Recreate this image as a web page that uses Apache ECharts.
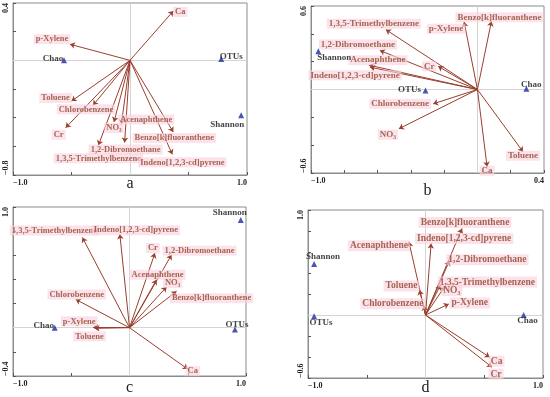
<!DOCTYPE html>
<html><head><meta charset="utf-8">
<script src="https://cdn.jsdelivr.net/npm/echarts@6/dist/echarts.min.js"></script>
<style>html,body{margin:0;padding:0;background:#fff}#c{width:550px;height:397px}</style>
</head><body><div id="c"></div>
<script>
// ---------- DATA ----------
// Panel a
const varsA = ['Ca','p-Xylene','Toluene','Chlorobenzene','Cr','NO₃','Acenaphthene','1,3,5-Trimethylbenzene','1,2-Dibromoethane','Benzo[k]fluoranthene','Indeno[1,2,3-cd]pyrene'];
const varXA = [0.37,-0.513,-0.50,-0.316,-0.55,-0.137,-0.074,-0.27,-0.046,0.37,0.362];
const varYA = [0.344,0.112,-0.284,-0.314,-0.47,-0.43,-0.447,-0.593,-0.574,-0.5,-0.656];
const spA = ['Chao','OTUs','Shannon'];
const spXA = [-0.564,0.78,0.95];
const spYA = [0,0.01,-0.384];
// Panel b
const varsB = ['1,3,5-Trimethylbenzene','p-Xylene','Benzo[k]fluoranthene','1,2-Dibromoethane','Cr','Acenaphthene','Indeno[1,2,3-cd]pyrene','Chlorobenzene','NO₃','Ca','Toluene'];
const varXB = [-0.55,-0.08,0.084,-0.586,-0.236,-0.652,-0.645,-0.266,-0.472,0.058,0.274];
const varYB = [0.43,0.486,0.49,0.28,0.167,0.175,0.16,-0.103,-0.282,-0.555,-0.447];
const spB = ['Shannon','OTUs','Chao'];
const spXB = [-0.956,-0.312,0.294];
const spYB = [0.275,-0.007,0.005];
// Panel c
const varsC = ['1,3,5-Trimethylbenzene','Indeno[1,2,3-cd]pyrene','Cr','1,2-Dibromoethane','Acenaphthene','NO₃','Benzo[k]fluoranthene','Chlorobenzene','p-Xylene','Toluene','Ca'];
const varXC = [-0.404,-0.083,0.218,0.361,0.232,0.318,0.404,-0.461,-0.312,-0.30,0.50];
const varYC = [0.747,0.775,0.618,0.604,0.398,0.338,0.302,0.234,0.003,-0.005,-0.343];
const spC = ['Shannon','Chao','OTUs'];
const spXC = [0.955,-0.642,0.905];
const spYC = [0.893,0,-0.014];
// Panel d
const varsD = ['Benzo[k]fluoranthene','Indeno[1,2,3-cd]pyrene','Acenaphthene','1,2-Dibromoethane','1,3,5-Trimethylbenzene','NO₃','Toluene','Chlorobenzene','p-Xylene','Ca','Cr'];
const varXD = [0.311,0.048,-0.141,0.204,0.127,0.164,-0.051,-0.014,0.198,0.546,0.566];
const varYD = [0.824,0.681,0.697,0.516,0.285,0.272,0.238,0.089,0.105,-0.402,-0.497];
const spD = ['Shannon','OTUs','Chao'];
const spXD = [-0.948,-0.948,0.835];
const spYD = [0.485,-0.013,0];
// Axis tick labels (only ends are labelled)
const xTicksA = ['\u22121.0','1.0'], yTicksA = ['\u22120.8','0.4'];
const xTicksB = ['\u22121.0','0.4'], yTicksB = ['\u22120.6','0.6'];
const xTicksC = ['\u22121.0','1.0'], yTicksC = ['\u22120.4','1.0'];
const xTicksD = ['\u22121.0','1.0'], yTicksD = ['\u22120.6','1.0'];
const panelNames = ['a','b','c','d'];

// ---------- LAYOUT / STYLE ----------
const varLabOff = [
  [[7,1],[-18,-5],[-16,-3],[-7,4],[-7,7],[0,6],[25,-5],[0,13],[1,7],[1,6],[10,8]],
  [[-12,-6],[-18,7],[8,-4],[-22,-6],[-9,0],[9,-5],[-15,8],[-33,0],[-11,6],[0,4],[0,4]],
  [[-28,-7],[16,-4],[-2,-5],[28,-4],[1,-5],[6,-4],[35,7],[1,-5],[-14,-6],[-5,8],[5,2]],
  [[3,-6],[33,-5],[-30,4],[38,-1],[47,-3],[7,4],[-18,-4],[-31,-2],[21,-1],[7,4],[4,7]]
];
const spLabOff = [
  [[-11,-2],[10,-2],[-14,9]],
  [[16,6],[-16,-1],[5,-4]],
  [[-11,-7],[-11,-2],[2,-5]],
  [[9,-7],[7,6],[4,6]]
];
const grids = [
  {left:13, top:3, width:234, height:172},
  {left:311, top:6, width:233, height:167},
  {left:13, top:207, width:233, height:170},
  {left:308, top:210, width:235, height:168}
];
const ranges = [
  {xmin:-1,xmax:1,xint:0.5,ymin:-0.8,ymax:0.4,yint:0.2,gap:1,fs:8.5},
  {xmin:-1,xmax:0.4,xint:0.2,ymin:-0.6,ymax:0.6,yint:0.2,gap:10,fs:9},
  {xmin:-1,xmax:1,xint:0.5,ymin:-0.4,ymax:1,yint:0.2,gap:4,fs:8.5},
  {xmin:-1,xmax:1,xint:0.5,ymin:-0.6,ymax:1,yint:0.2,gap:2,fs:9.5}
];
const panels = [
  {vars:varsA,vx:varXA,vy:varYA,sp:spA,sx:spXA,sy:spYA,xt:xTicksA,yt:yTicksA},
  {vars:varsB,vx:varXB,vy:varYB,sp:spB,sx:spXB,sy:spYB,xt:xTicksB,yt:yTicksB},
  {vars:varsC,vx:varXC,vy:varYC,sp:spC,sx:spXC,sy:spYC,xt:xTicksC,yt:yTicksC},
  {vars:varsD,vx:varXD,vy:varYD,sp:spD,sx:spXD,sy:spYD,xt:xTicksD,yt:yTicksD}
];
const SERIF = '"Liberation Serif","Times New Roman",serif';
const axisCol = '#8c8c8c';
const arrowCol = '#9a3f2e';
const labCol = '#8f452b';

function endFmt(min,max,labels){
  return function(v){
    if (Math.abs(v-min)<1e-6) return labels[0];
    if (Math.abs(v-max)<1e-6) return labels[1];
    return '';
  };
}

const option = {animation:false, backgroundColor:'#fff', grid:[], xAxis:[], yAxis:[], series:[]};
panels.forEach((p,i)=>{
  const r = ranges[i];
  option.grid.push(Object.assign({show:true, borderColor:axisCol, borderWidth:1, containLabel:false}, grids[i]));
  const common = {
    axisLine:{show:true, onZero:false, lineStyle:{color:axisCol,width:1}},
    axisTick:{show:true, inside:true, length:3, lineStyle:{color:'#555'}},
    splitLine:{show:false}
  };
  option.xAxis.push(Object.assign({
    type:'value', gridIndex:i, min:r.xmin, max:r.xmax, interval:r.xint,
    name:panelNames[i], nameLocation:'middle', nameGap:r.gap, nameMoveOverlap:false,
    nameTextStyle:{fontFamily:SERIF, fontSize:16, color:'#222'},
    axisLabel:{show:true, showMinLabel:true, showMaxLabel:true, margin:4, fontFamily:SERIF, fontWeight:'bold', fontSize:8, color:'#222',
      alignMinLabel:'left', alignMaxLabel:'right', formatter:endFmt(r.xmin,r.xmax,p.xt)}
  }, common));
  option.yAxis.push(Object.assign({
    type:'value', gridIndex:i, min:r.ymin, max:r.ymax, interval:r.yint,
    axisLabel:{show:true, showMinLabel:true, showMaxLabel:true, margin:3, rotate:90, fontFamily:SERIF, fontWeight:'bold', fontSize:8, color:'#222',
      alignMinLabel:'left', alignMaxLabel:'right', formatter:endFmt(r.ymin,r.ymax,p.yt)}
  }, common));
  // arrows
  option.series.push({
    type:'lines', coordinateSystem:'cartesian2d', xAxisIndex:i, yAxisIndex:i, z:3,
    symbol:['none','arrow'], symbolSize:5,
    lineStyle:{color:arrowCol, width:1, opacity:1},
    data:p.vars.map((n,k)=>({name:n, coords:[[0,0],[p.vx[k],p.vy[k]]]}))
  });
  // arrow labels
  option.series.push({
    type:'scatter', xAxisIndex:i, yAxisIndex:i, z:4, symbolSize:1,
    itemStyle:{color:'transparent'},
    label:{show:true, position:'inside', formatter:'{b}', fontFamily:SERIF, fontWeight:'bold', fontSize:r.fs,
      color:labCol, backgroundColor:'rgba(251,210,222,0.8)', padding:[1,2,0,2]},
    data:p.vars.map((n,k)=>({name:n, value:[p.vx[k],p.vy[k]], label:{offset:varLabOff[i][k]}}))
  });
  // species
  option.series.push({
    type:'scatter', xAxisIndex:i, yAxisIndex:i, z:5, symbol:'triangle', symbolSize:6,
    itemStyle:{color:'#1f2a9e'},
    label:{show:true, position:'inside', formatter:'{b}', fontFamily:SERIF, fontWeight:'bold', fontSize:9, color:'#111'},
    data:p.sp.map((n,k)=>({name:n, value:[p.sx[k],p.sy[k]], label:{offset:spLabOff[i][k]}})),
    markLine:{silent:true, symbol:'none', label:{show:false}, z:1,
      lineStyle:{color:'#d4d4d4', type:'solid', width:1},
      data:[{xAxis:0},{yAxis:0}]}
  });
});
const chart = echarts.init(document.getElementById('c'), null, {renderer:'canvas'});
chart.setOption(option);
</script></body></html>
